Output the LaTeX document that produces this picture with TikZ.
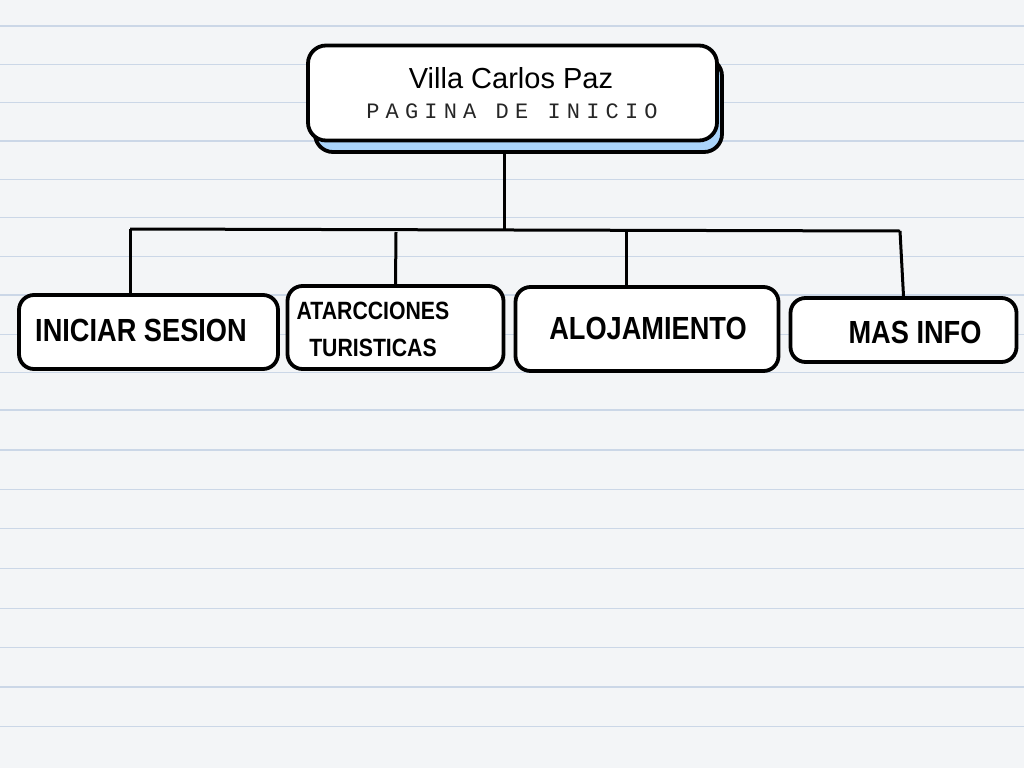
\documentclass[tikz,border=0pt]{standalone}
\usepackage{fontspec}
\setmainfont{Liberation Sans}
\newfontfamily\handfont[FakeStretch=0.85]{Liberation Sans}
\newfontfamily\spacedmono[LetterSpace=28]{Liberation Mono}
\usetikzlibrary{positioning,calc}
\definecolor{paper}{RGB}{243,245,247}
\definecolor{ruleblue}{RGB}{203,215,231}
\definecolor{shadowblue}{RGB}{170,212,250}
\begin{document}
\begin{tikzpicture}[x=1pt, y=-1pt,
                    box/.style={draw, line width=3.8pt, fill=white, rounded corners=15pt},
                    label/.style={font=\handfont\bfseries\fontsize{32}{34}\selectfont, inner sep=0pt},
                    wire/.style={line width=3pt}]
% paper
\fill[paper] (0,0) rectangle (1024,768);
\useasboundingbox (0,0) rectangle (1024,768);
\foreach \y in {26,64.3,102.7,141,179.3,217.5,256.7,295,334.3,372.7,410,450,489.3,528.3,568.5,608.3,647.7,687,726.7}
    \draw[ruleblue, line width=1.3pt] (0,\y) -- (1024,\y);

% top box
\node[box, fill=shadowblue, minimum width=407pt, minimum height=94pt, rounded corners=18pt] (shadow) at (518.5,105) {};
\node[box, minimum width=409pt, minimum height=95pt, rounded corners=18pt] (top) at (512.5,93) {};
\node[inner sep=0pt, font=\fontsize{29}{31}\selectfont] (name) at (511,78) {Villa Carlos Paz};
\node[inner sep=0pt, text=black!85, font=\spacedmono\fontsize{22}{24}\selectfont] (home) at (512,111) {PAGINA DE INICIO};

% second level
\node[box, minimum width=259pt, minimum height=74pt] (sesion) at (148.5,332) {};
\node[box, minimum width=216pt, minimum height=83pt] (atracc) at (395.5,327.5) {};
\node[box, minimum width=263pt, minimum height=84pt] (aloja) at (647,329) {};
\node[box, minimum width=226pt, minimum height=64pt] (info) at (903.5,330) {};

\node[label] (sesiontxt) at (141,330) {INICIAR SESION};
\node[label, font=\handfont\bfseries\fontsize{25}{27}\selectfont] (atracctxt) at (373,311) {ATARCCIONES};
\node[label, font=\handfont\bfseries\fontsize{25}{27}\selectfont] (turistxt) at (373,348) {TURISTICAS};
\node[label] (alojatxt) at (648,328) {ALOJAMIENTO};
\node[label] (infotxt) at (915,332) {MAS INFO};

% connectors
\coordinate (stem) at (504,229);
\coordinate (busl) at (130,229);
\coordinate (busr) at (900,231);
\coordinate (drop2) at (396,232);
\coordinate (drop3) at (626,232);
\draw[wire] (stem |- shadow.south) -- (stem);
\draw[wire] (busl) -- (busr);
\draw[wire] (busl) -- (busl |- sesion.north);
\draw[wire] (drop2) -- (atracc.north);
\draw[wire] (drop3) -- (drop3 |- aloja.north);
\draw[wire] (busr) -- (info.north);
\end{tikzpicture}
\end{document}
